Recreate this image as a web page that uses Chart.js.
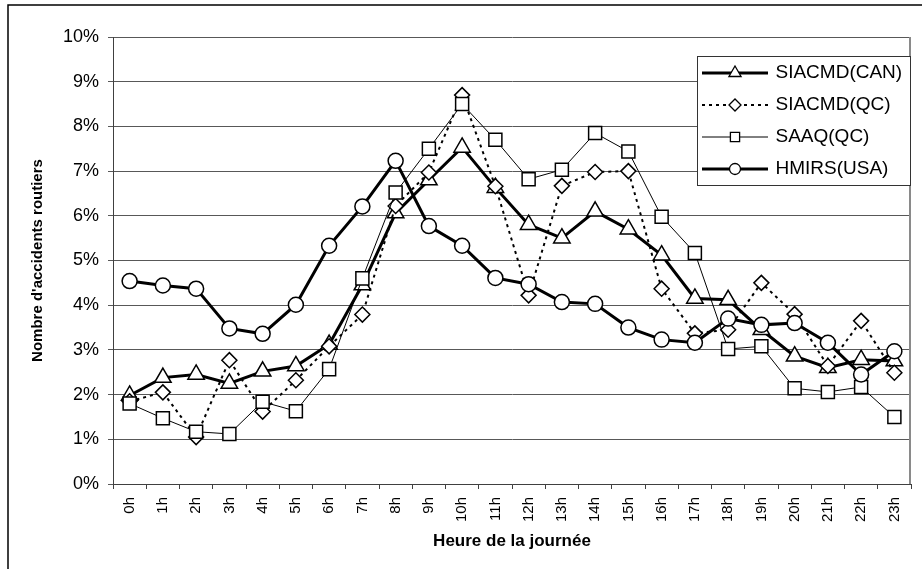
<!DOCTYPE html>
<html>
<head>
<meta charset="utf-8">
<script src="https://cdn.jsdelivr.net/npm/chart.js@4/dist/chart.umd.min.js"></script>
<style>
  html, body { margin: 0; padding: 0; background: #fff; }
  canvas { display: block; }
</style>
</head>
<body>
<canvas id="c" width="922" height="569"></canvas>
<script>
// ---- data ----
const hours = ['0h','1h','2h','3h','4h','5h','6h','7h','8h','9h','10h','11h','12h','13h','14h','15h','16h','17h','18h','19h','20h','21h','22h','23h'];
const seriesNames = ['SIACMD(CAN)', 'SIACMD(QC)', 'SAAQ(QC)', 'HMIRS(USA)'];
const siacmdCan = [1.98, 2.38, 2.45, 2.25, 2.52, 2.64, 3.12, 4.45, 6.06, 6.80, 7.53, 6.63, 5.80, 5.50, 6.10, 5.70, 5.12, 4.15, 4.12, 3.45, 2.86, 2.60, 2.78, 2.75];
const siacmdQc  = [1.85, 2.05, 1.05, 2.77, 1.62, 2.32, 3.08, 3.79, 6.22, 6.97, 8.70, 6.66, 4.22, 6.67, 6.98, 7.00, 4.37, 3.37, 3.45, 4.50, 3.80, 2.64, 3.65, 2.49];
const saaqQc    = [1.80, 1.47, 1.17, 1.12, 1.84, 1.63, 2.57, 4.60, 6.52, 7.50, 8.50, 7.70, 6.82, 7.03, 7.85, 7.44, 5.98, 5.17, 3.02, 3.08, 2.14, 2.06, 2.17, 1.50];
const hmirsUsa  = [4.54, 4.44, 4.37, 3.48, 3.36, 4.01, 5.33, 6.21, 7.23, 5.77, 5.33, 4.61, 4.47, 4.07, 4.03, 3.50, 3.23, 3.16, 3.70, 3.56, 3.60, 3.16, 2.45, 2.97];
const yMin = 0, yMax = 10, yStep = 1;
const xTitle = 'Heure de la journée';
const yTitle = "Nombre d'accidents routiers";

const FONT = '"Liberation Sans", Arial, Helvetica, sans-serif';

// ---- styles ----
const styles = [
  { width: 3,   dash: [],     point: 'triangle', radius: 9.5, legendRadius: 7 },
  { width: 2,   dash: [3, 4], point: 'rectRot',  radius: 7.5, legendRadius: 6 },
  { width: 1,   dash: [],     point: 'rect',     radius: 9.2, legendRadius: 6.5 },
  { width: 3,   dash: [],     point: 'circle',   radius: 7.5, legendRadius: 5.5 }
];
const seriesData = [siacmdCan, siacmdQc, saaqQc, hmirsUsa];

// legend sample images (line + marker), markers drawn with Chart.js helper
function makeLegendImage(st) {
  const cv = document.createElement('canvas');
  cv.width = 66; cv.height = 20;
  const g = cv.getContext('2d');
  g.strokeStyle = '#000';
  g.lineWidth = st.width;
  g.setLineDash(st.dash);
  g.beginPath(); g.moveTo(0, 10); g.lineTo(66, 10); g.stroke();
  g.setLineDash([]);
  g.fillStyle = '#fff';
  g.strokeStyle = '#000';
  g.lineWidth = 1.3;
  Chart.helpers.drawPoint(g, { pointStyle: st.point, rotation: 0, radius: st.legendRadius, borderWidth: 1.3 }, 33, 10);
  return cv;
}
const legendImgs = styles.map(makeLegendImage);

const datasets = seriesNames.map((name, i) => ({
  label: name,
  data: seriesData[i],
  borderColor: '#000',
  backgroundColor: '#fff',
  borderWidth: styles[i].width,
  borderDash: styles[i].dash,
  pointStyle: styles[i].point,
  pointRadius: styles[i].radius,
  pointHoverRadius: styles[i].radius,
  pointBackgroundColor: '#fff',
  pointBorderColor: '#000',
  pointBorderWidth: 1.5,
  tension: 0,
  fill: false,
  order: 4 - i
}));

const LEG = { boxX: 697, boxY: 56, boxW: 213, boxH: 129 };

const framePlugin = {
  id: 'frame',
  beforeDraw(chart) {
    const c = chart.ctx;
    c.save();
    c.fillStyle = '#fff';
    c.fillRect(0, 0, chart.width, chart.height);
    c.strokeStyle = '#000';
    c.lineWidth = 1.5;
    c.beginPath();
    c.moveTo(8, chart.height + 5); c.lineTo(8, 5); c.lineTo(chart.width + 5, 5);
    c.stroke();
    c.restore();
  },
  afterLayout(chart) {
    const lg = chart.legend;
    if (!lg) return;
    lg.left = 691; lg.top = 50.5; lg.right = 915; lg.bottom = 240;
    lg.width = lg.right - lg.left; lg.height = lg.bottom - lg.top;
  },
  afterDatasetsDraw(chart) {
    const c = chart.ctx;
    const a = chart.chartArea;
    c.save();
    // plot area right border
    c.strokeStyle = '#8a8a8a';
    c.lineWidth = 2;
    c.beginPath(); c.moveTo(a.right - 1, a.top); c.lineTo(a.right - 1, a.bottom); c.stroke();
    // legend box
    c.fillStyle = '#fff';
    c.fillRect(LEG.boxX, LEG.boxY, LEG.boxW, LEG.boxH);
    c.strokeStyle = '#333';
    c.lineWidth = 1;
    c.strokeRect(LEG.boxX + 0.5, LEG.boxY + 0.5, LEG.boxW, LEG.boxH);
    c.restore();
    chart.legend.draw();
  }
};

new Chart(document.getElementById('c'), {
  type: 'line',
  data: { labels: hours, datasets: datasets },
  options: {
    responsive: false,
    animation: false,
    devicePixelRatio: 1,
    events: [],
    layout: { padding: { left: 8, top: 37, right: 7, bottom: 0 } },
    scales: {
      x: {
        offset: true,
        grid: { offset: true, drawOnChartArea: false, drawTicks: true, tickLength: 5, color: '#404040' },
        border: { display: true, color: '#404040', width: 1 },
        ticks: { autoSkip: false, minRotation: 90, maxRotation: 90, padding: 8, color: '#000', font: { family: FONT, size: 15 } },
        title: { display: true, text: xTitle, color: '#000', font: { family: FONT, size: 17, weight: 'bold' }, padding: { top: 0, bottom: 17 } },
        afterFit(s) { s.height = 85; }
      },
      y: {
        min: yMin, max: yMax,
        grid: { color: '#585858', lineWidth: 1, tickLength: 5, drawTicks: true },
        border: { display: true, color: '#404040', width: 1 },
        ticks: { stepSize: yStep, padding: 9, color: '#000', font: { family: FONT, size: 18 }, callback: v => v + '%' },
        title: { display: true, text: yTitle, color: '#000', font: { family: FONT, size: 15, weight: 'bold' }, padding: { top: 21, bottom: 0 } },
        afterFit(s) { s.width = 105; }
      }
    },
    plugins: {
      legend: {
        position: 'chartArea',
        align: 'start',
        labels: {
          usePointStyle: true,
          pointStyleWidth: 62,
          padding: 13,
          color: '#000',
          font: { family: FONT, size: 19 },
          sort: (a, b) => a.datasetIndex - b.datasetIndex,
          generateLabels(chart) {
            const items = Chart.defaults.plugins.legend.labels.generateLabels(chart);
            items.forEach(it => { it.pointStyle = legendImgs[it.datasetIndex]; it.fontColor = '#000'; });
            return items;
          }
        }
      },
      tooltip: { enabled: false }
    }
  },
  plugins: [framePlugin]
});
</script>
</body>
</html>
